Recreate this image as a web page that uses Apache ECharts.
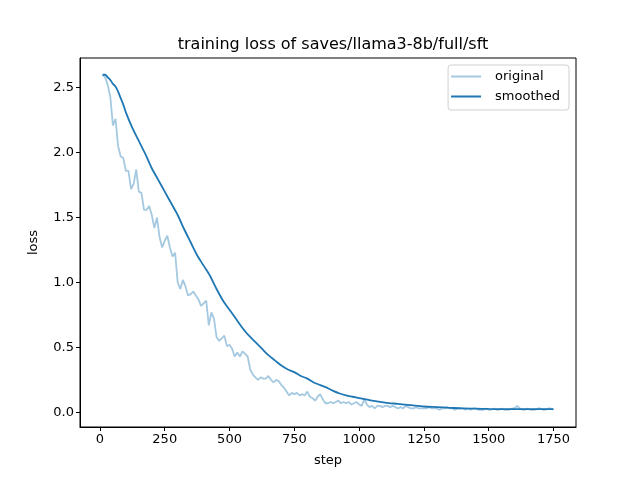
<!DOCTYPE html>
<html>
<head>
<meta charset="utf-8">
<script src="https://cdn.jsdelivr.net/npm/echarts@6/dist/echarts.min.js"></script>
<style>html,body{margin:0;padding:0;background:#fff}#c{width:640px;height:480px}</style>
</head>
<body>
<div id="c"></div>
<script>
var titleText = 'training loss of saves/llama3-8b/full/sft';
var xTicks = [0, 250, 500, 750, 1000, 1250, 1500, 1750];
var yTicks = [0, 0.5, 1.0, 1.5, 2.0, 2.5];
var origSteps = [10,20,30,40,50,60,70,80,90,100,110,120,130,140,150,160,170,180,190,200,
210,220,230,240,250,260,270,280,290,300,310,320,330,340,350,360,370,380,390,400,
410,420,430,440,450,460,470,480,490,500,510,520,530,540,550,560,570,580,590,600,
610,620,630,640,650,660,670,680,690,700,710,720,730,740,750,760,770,780,790,800,
810,820,830,840,850,860,870,880,890,900,910,920,930,940,950,960,970,980,990,1000,
1010,1020,1030,1040,1050,1060,1070,1080,1090,1100,1110,1120,1130,1140,1150,1160,1170,1180,1190,1200,
1210,1220,1230,1240,1250,1260,1270,1280,1290,1300,1310,1320,1330,1340,1350,1360,1370,1380,1390,1400,
1410,1420,1430,1440,1450,1460,1470,1480,1490,1500,1510,1520,1530,1540,1550,1560,1570,1580,1590,1600,
1610,1620,1630,1640,1650,1660,1670,1680,1690,1700,1710,1720,1730,1740,1750];
var origLoss = [2.60,2.58,2.52,2.43,2.21,2.26,2.05,1.97,1.96,1.86,1.86,1.72,1.76,1.87,1.70,1.69,1.56,1.56,1.59,1.52,
1.42,1.50,1.35,1.27,1.32,1.36,1.27,1.20,1.23,1.00,0.95,1.02,0.97,0.90,0.91,0.93,0.90,0.87,0.82,0.84,
0.86,0.67,0.77,0.72,0.58,0.55,0.57,0.59,0.51,0.52,0.49,0.43,0.46,0.43,0.47,0.45,0.43,0.33,0.29,0.27,
0.25,0.27,0.26,0.26,0.28,0.25,0.23,0.25,0.24,0.21,0.19,0.16,0.13,0.15,0.14,0.15,0.13,0.14,0.13,0.16,
0.12,0.11,0.09,0.12,0.14,0.10,0.07,0.07,0.08,0.07,0.08,0.09,0.07,0.08,0.07,0.08,0.06,0.07,0.08,0.06,
0.05,0.10,0.06,0.04,0.05,0.03,0.05,0.05,0.04,0.05,0.05,0.04,0.05,0.04,0.03,0.04,0.03,0.05,0.04,0.03,
0.03,0.04,0.03,0.03,0.03,0.03,0.04,0.03,0.03,0.03,0.02,0.03,0.03,0.04,0.03,0.03,0.02,0.03,0.03,0.03,
0.02,0.03,0.02,0.03,0.03,0.02,0.02,0.02,0.03,0.02,0.02,0.03,0.02,0.02,0.03,0.02,0.02,0.02,0.03,0.03,
0.05,0.03,0.02,0.02,0.03,0.02,0.02,0.02,0.03,0.03,0.02,0.02,0.03,0.03,0.02];
var smoothSteps = [10,20,30,40,50,60,70,80,90,100,125,150,175,200,225,250,275,300,325,350,375,400,425,450,475,500,
525,550,575,600,625,650,675,700,725,750,775,800,825,850,875,900,925,950,975,1000,1050,1100,1150,1200,1250,1300,
1350,1400,1450,1500,1550,1600,1650,1700,1750];
var smoothLoss = [2.60,2.60,2.58,2.56,2.53,2.51,2.47,2.42,2.37,2.31,2.19,2.09,1.99,1.88,1.79,1.70,1.61,1.52,1.41,1.31,1.21,1.13,1.05,0.95,0.86,0.79,
0.72,0.65,0.59,0.54,0.49,0.44,0.40,0.36,0.33,0.31,0.28,0.26,0.23,0.21,0.19,0.165,0.145,0.13,0.12,0.11,0.09,0.075,0.065,0.055,0.045,0.04,
0.035,0.03,0.028,0.026,0.025,0.025,0.024,0.024,0.024];

function pairs(xs, ys){ var out=[]; for (var i=0;i<xs.length;i++) out.push([xs[i], ys[i]]); return out; }
var FONT = 'DejaVu Sans';
var chart = echarts.init(document.getElementById('c'), null, {renderer:'canvas'});
chart.setOption({
  animation: false,
  backgroundColor: '#fff',
  title: { text: titleText, left: 328, top: 32, textAlign: 'center',
    textStyle: { fontFamily: FONT, fontSize: 16, fontWeight: 'normal', color: '#000' } },
  legend: {
    orient: 'vertical', right: 71, top: 65, padding: [5, 9, 7, 3], itemGap: 7,
    itemWidth: 30, itemHeight: 2, borderColor: '#d0d0d0', borderWidth: 1, borderRadius: 3,
    textStyle: { fontFamily: FONT, fontSize: 13, color: '#000', padding: [0,0,0,9] },
    data: [{ name: 'original', icon: 'rect' }, { name: 'smoothed', icon: 'rect' }]
  },
  grid: { left: 80, right: 64, top: 58, bottom: 53, show: true, borderColor: '#000', borderWidth: 1 },
  xAxis: {
    type: 'value', min: -77, max: 1837, name: 'step', nameLocation: 'middle', nameGap: 27,
    nameTextStyle: { fontFamily: FONT, fontSize: 13, color: '#000' },
    splitLine: { show: false },
    axisLine: { show: true, onZero: false, lineStyle: { color: '#000' } },
    axisTick: { show: true, length: 4, lineStyle: { color: '#000' }, customValues: xTicks },
    axisLabel: { fontFamily: FONT, fontSize: 13, color: '#000', margin: 6, customValues: xTicks,
      formatter: function(v){ return String(v); } }
  },
  yAxis: {
    type: 'value', min: -0.113, max: 2.729, name: 'loss', nameLocation: 'middle', nameGap: 40,
    nameTextStyle: { fontFamily: FONT, fontSize: 13, color: '#000' },
    splitLine: { show: false },
    axisLine: { show: true, onZero: false, lineStyle: { color: '#000' } },
    axisTick: { show: true, length: 4, lineStyle: { color: '#000' }, customValues: yTicks },
    axisLabel: { fontFamily: FONT, fontSize: 13, color: '#000', margin: 6, customValues: yTicks,
      formatter: function(v){ return v.toFixed(1); } }
  },
  series: [
    { name: 'original', type: 'line', data: pairs(origSteps, origLoss), showSymbol: false,
      color: 'rgba(31,119,180,0.4)', lineStyle: { width: 1.8, color: 'rgba(31,119,180,0.4)' } },
    { name: 'smoothed', type: 'line', data: pairs(smoothSteps, smoothLoss), showSymbol: false, smooth: 0.3,
      color: '#1f77b4', lineStyle: { width: 1.8, color: '#1f77b4' } }
  ]
});
</script>
</body>
</html>
